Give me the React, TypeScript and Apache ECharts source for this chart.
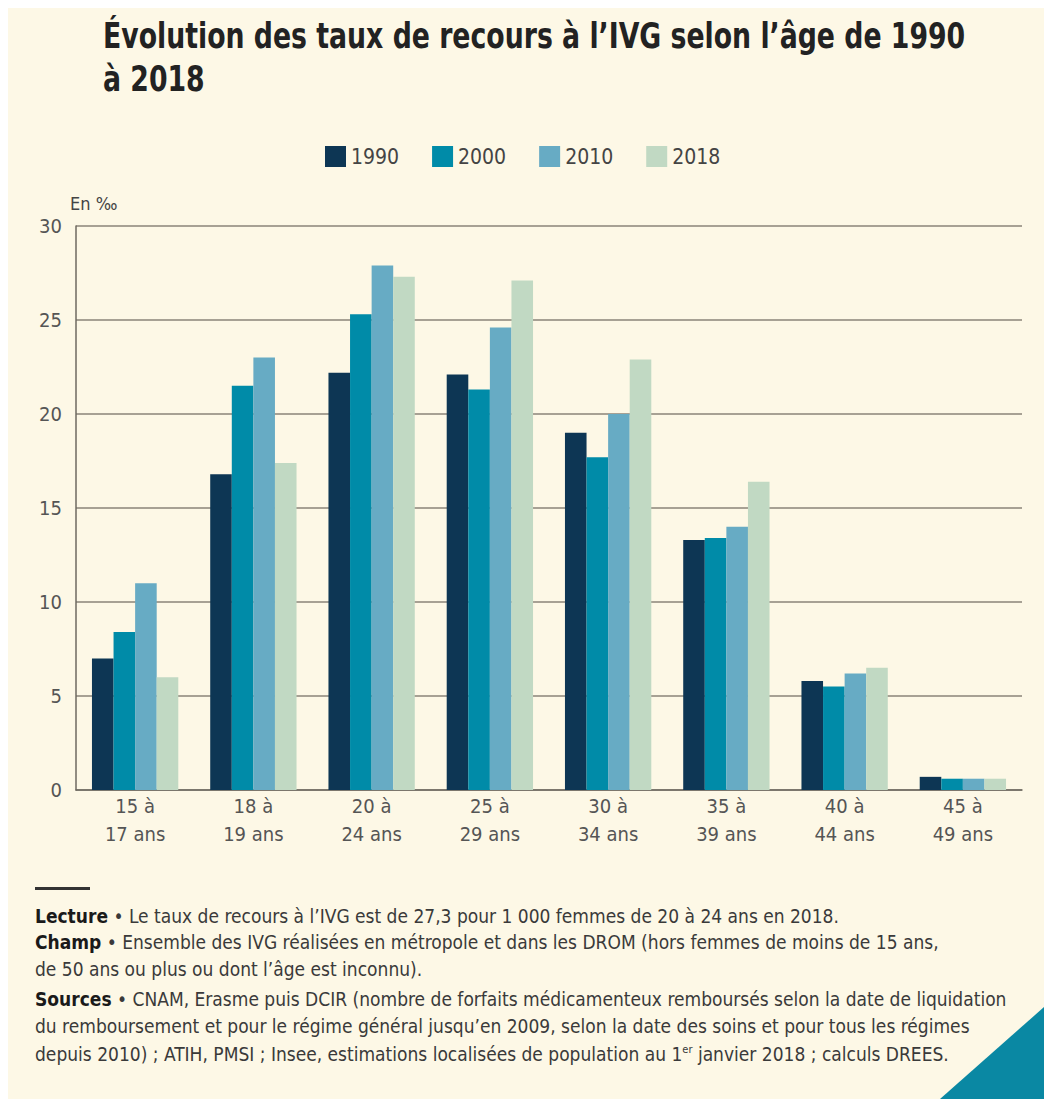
import React, { useEffect, useRef } from "react";
import * as echarts from "echarts";

const categories = ["15 à\n17 ans", "18 à\n19 ans", "20 à\n24 ans", "25 à\n29 ans", "30 à\n34 ans", "35 à\n39 ans", "40 à\n44 ans", "45 à\n49 ans"];
const seriesNames = ["1990", "2000", "2010", "2018"];
const values1990 = [7.0, 16.8, 22.2, 22.1, 19.0, 13.3, 5.8, 0.7];
const values2000 = [8.4, 21.5, 25.3, 21.3, 17.7, 13.4, 5.5, 0.6];
const values2010 = [11.0, 23.0, 27.9, 24.6, 20.0, 14.0, 6.2, 0.6];
const values2018 = [6.0, 17.4, 27.3, 27.1, 22.9, 16.4, 6.5, 0.6];
const colors = ["#0d3654", "#008ba8", "#67abc4", "#c1d9c3"];

const FONT = "'Liberation Sans Narrow', 'DejaVu Sans Condensed', 'Arial Narrow', sans-serif";

export default function App() {
  const ref = useRef<HTMLDivElement>(null);
  useEffect(() => {
    if (!ref.current) return;
    const chart = echarts.init(ref.current, null, { renderer: "svg" });
    const data = [values1990, values2000, values2010, values2018];
    const footStyle = { fontFamily: FONT, fontSize: 19, fill: "#3a3a3a" };
    const rich = {
      b: { fontFamily: FONT, fontSize: 19, fontWeight: "bold" as const, fill: "#1a1a1a" },
      sup: { fontFamily: FONT, fontSize: 11, fill: "#3a3a3a", padding: [0, 0, 9, 0] },
    };
    chart.setOption({
      animation: false,
      backgroundColor: "#fdf8e6",
      textStyle: { fontFamily: FONT },
      grid: { left: 68, right: 30, top: 218, bottom: 309, containLabel: false },
      legend: {
        left: 312,
        top: 133,
        itemWidth: 21,
        itemHeight: 21,
        itemGap: 33,
        icon: "rect",
        textStyle: { fontFamily: FONT, fontSize: 21, color: "#444" },
        data: seriesNames,
      },
      xAxis: {
        type: "category",
        data: categories,
        axisTick: { show: false },
        axisLine: { show: true, lineStyle: { color: "#6e6a60", width: 1.5 } },
        axisLabel: { fontFamily: FONT, fontSize: 20, color: "#555", lineHeight: 28, margin: 2 },
      },
      yAxis: {
        type: "value",
        min: 0,
        max: 30,
        interval: 5,
        name: "En ‰",
        nameLocation: "end",
        nameGap: 14,
        nameTextStyle: { fontFamily: FONT, fontSize: 18, color: "#444", align: "left", padding: [0, 0, 0, -6] },
        axisLine: { show: true, lineStyle: { color: "#6e6a60", width: 1.5 } },
        axisTick: { show: false },
        splitLine: { lineStyle: { color: "#8a8478", width: 1.5 } },
        axisLabel: { fontFamily: FONT, fontSize: 20, color: "#555", margin: 14 },
      },
      series: seriesNames.map((name, i) => ({
        name,
        type: "bar",
        data: data[i],
        barGap: "0%",
        barCategoryGap: "27%",
        itemStyle: { color: colors[i] },
      })),
      graphic: [
        {
          type: "text",
          x: 95,
          y: 6,
          scaleX: 0.825,
          style: {
            text: "Évolution des taux de recours à l’IVG selon l’âge de 1990\nà 2018",
            fontFamily: FONT,
            fontSize: 36,
            fontWeight: "bold",
            lineHeight: 43,
            fill: "#222",
            verticalAlign: "top",
          },
        },
        {
          type: "polygon",
          shape: { points: [[1044, 992], [1044, 1091], [932, 1091]] },
          style: { fill: "#0a88a3" },
        },
        {
          type: "rect",
          shape: { x: 27, y: 879, width: 55, height: 3 },
          style: { fill: "#333" },
        },
        { type: "text", left: 27, top: 898, style: { text: "{b|Lecture} • Le taux de recours à l’IVG est de 27,3 pour 1 000 femmes de 20 à 24 ans en 2018.", rich, ...footStyle } },
        { type: "text", left: 27, top: 924, style: { text: "{b|Champ} • Ensemble des IVG réalisées en métropole et dans les DROM (hors femmes de moins de 15 ans,", rich, ...footStyle } },
        { type: "text", left: 27, top: 951, style: { text: "de 50 ans ou plus ou dont l’âge est inconnu).", rich, ...footStyle } },
        { type: "text", left: 27, top: 981, style: { text: "{b|Sources} • CNAM, Erasme puis DCIR (nombre de forfaits médicamenteux remboursés selon la date de liquidation", rich, ...footStyle } },
        { type: "text", left: 27, top: 1008, style: { text: "du remboursement et pour le régime général jusqu’en 2009, selon la date des soins et pour tous les régimes", rich, ...footStyle } },
        { type: "text", left: 27, top: 1036, style: { text: "depuis 2010) ; ATIH, PMSI ; Insee, estimations localisées de population au 1{sup|er} janvier 2018 ; calculs DREES.", rich, ...footStyle } },
      ],
    });
    return () => chart.dispose();
  }, []);
  return <div ref={ref} style={{ width: 1044, height: 1091 }} />;
}
